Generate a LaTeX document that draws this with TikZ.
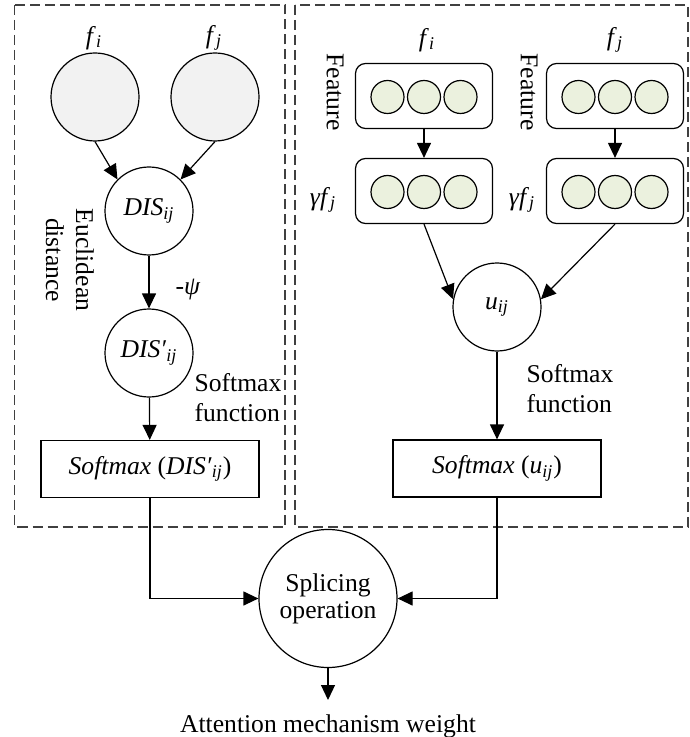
\documentclass[tikz,border=0pt]{standalone}
\usepackage{fontspec}
\setmainfont{Liberation Serif}
\usetikzlibrary{arrows.meta,positioning}

\definecolor{inputgray}{HTML}{F2F2F2}
\definecolor{cellgreen}{HTML}{EBF1DE}
\definecolor{framegray}{HTML}{404040}
\newcommand{\idx}[1]{\textsubscript{\textit{#1}}}

\begin{document}
\begin{tikzpicture}[x=0.5pt, y=-0.5pt, line width=0.6pt,
                    >={Triangle[length=7.5pt,width=7pt]},
                    every node/.style={font=\fontsize{12.8}{15}\selectfont},
                    main node/.style={circle,draw,minimum size=44pt,inner sep=0pt},
                    input node/.style={main node,fill=inputgray},
                    feat box/.style={rectangle,draw,rounded corners=5pt,minimum width=68.5pt,minimum height=32.5pt},
                    cell/.style={circle,draw,fill=cellgreen,minimum size=16.5pt,inner sep=0pt},
                    soft box/.style={rectangle,draw,minimum height=28.5pt},
                    frame/.style={dashed,dash pattern=on 5pt off 2.5pt,draw=framegray}]

  \useasboundingbox (0,0) rectangle (689,737);

  % dashed frames
  \draw[frame] (14.5,5) rectangle (285,527);
  \draw[frame] (295,5) rectangle (688,527);

  % left branch
  \node[input node] (fi) at (95,97) {};
  \node[input node] (fj) at (215,97) {};
  \node (fil) at (94,38) {\textit{f}\idx{i}};
  \node (fjl) at (214,38) {\textit{f}\idx{j}};
  \node[main node] (dis) at (149,211) {\textit{DIS}\idx{ij}};
  \node[main node] (disp) [below of=dis, node distance=71pt] {\textit{DIS′}\idx{ij}};
  \node[soft box,minimum width=109pt] (sdis) at (150,469) {\textit{Softmax} (\textit{DIS′}\idx{ij})};
  \node[rotate=-90,align=center] (eucl) at (70,260) {Euclidean\\distance};
  \node (psi) at (188,290) {-\textit{ψ}};
  \node[align=left] (smfa) at (238,398) {Softmax\\function};

  % right branch
  \node[feat box] (fa) at (424,96) {};
  \node[feat box] (fb) at (615,96) {};
  \node[feat box] (ga) at (424,191) {};
  \node[feat box] (gb) at (615,191) {};
  \foreach \b in {fa,fb,ga,gb}
    \foreach \k/\dx in {1/-36.5,2/0,3/36.5}
      \node[cell,xshift=\dx*0.5pt,yshift=-0.5pt] (\b\k) at (\b) {};
  \node (fil2) at (427,40) {\textit{f}\idx{i}};
  \node (fjl2) at (615,40) {\textit{f}\idx{j}};
  \node[rotate=-90] (feata) at (335,92) {Feature};
  \node[rotate=-90] (featb) at (529,92) {Feature};
  \node (gla) at (323,200) {\textit{γf}\idx{j}};
  \node (glb) at (522,200) {\textit{γf}\idx{j}};
  \node[main node] (u) at (497,307) {\textit{u}\idx{ij}};
  \node[soft box,minimum width=104pt] (su) at (497,468.5) {\textit{Softmax} (\textit{u}\idx{ij})};
  \node[align=left] (smfb) at (570,389) {Softmax\\function};

  % merge
  \node[main node,minimum size=69pt,align=center,font=\fontsize{12.8}{13.5}\selectfont] (splice) at (328,598.5) {Splicing\\operation};
  \node[anchor=north,inner sep=7pt] (out) at (328,700) {Attention mechanism weight};

  \path[->]
    (fi.south) edge (dis.north west)
    (fj.south) edge (dis.north east)
    (dis) edge (disp)
    (disp) edge (sdis)
    (fa) edge (ga)
    (fb) edge (gb)
    (ga.south) edge (u.170)
    (gb.south) edge (u.10)
    (u) edge (su)
    (splice) edge (out);
  \draw[->] (sdis.south) |- (splice.west);
  \draw[->] (su.south) |- (splice.east);
\end{tikzpicture}
\end{document}
